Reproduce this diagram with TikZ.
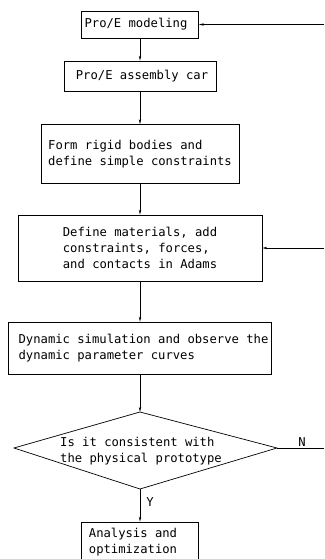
\documentclass[tikz,border=0pt]{standalone}
\usepackage{fontspec}
\setmainfont{DejaVu Sans Mono}
\usetikzlibrary{arrows.meta}
\begin{document}
\begin{tikzpicture}[x=1pt,y=-1pt,
  every node/.style={font=\fontsize{12.2}{16}\selectfont},
  box/.style={draw, line width=0.7pt, rectangle, align=left, inner sep=0pt},
  link/.style={line width=0.7pt, -{Stealth[length=5pt,width=2.4pt]}},
  plain/.style={line width=0.7pt}]
\useasboundingbox (0,0) rectangle (324,559);
\node[box, minimum height=27pt, minimum width=117pt] (b1) at (140,24.5) {Pro/E modeling\hspace*{8pt}};
\node[box, minimum height=30pt, minimum width=152pt] (b2) at (140,76) {\hspace*{4pt}Pro/E assembly car};
\node[box, minimum height=59pt, minimum width=198pt] (b3) at (140,154) {Form rigid bodies and\\define simple constraints};
\node[box, minimum height=66pt, minimum width=244pt] (b4) at (140,248) {Define materials, add\\constraints, forces,\\and contacts in Adams};
\node[box, minimum height=52pt, minimum width=263pt] (b5) at (140,348) {\hspace*{7pt}Dynamic simulation and observe the\\\hspace*{7pt}dynamic parameter curves};
\coordinate (dtop) at (140,412);
\coordinate (dleft) at (14,448);
\coordinate (dright) at (277,448);
\coordinate (dbot) at (140,489);
\draw[plain] (dtop) -- (dright) -- (dbot) -- (dleft) -- cycle;
\node[anchor=west, align=left, inner sep=0pt] (dt) at (60,451) {Is it consistent with\\the physical prototype};
\node[box, minimum height=40pt, minimum width=117pt] (b6) at (140,542) {Analysis and\hspace*{14pt}\\optimization};
\coordinate (r1) at (324,24.5);
\coordinate (r4) at (324,248);
\coordinate (rn) at (324,448);
\node[inner sep=0pt] (ylab) at (150,502) {Y};
\node[inner sep=0pt] (nlab) at (302,442) {N};
\draw[link] (b1.south) -- (b2.north);
\draw[link] (b2.south) -- (b3.north);
\draw[link] (b3.south) -- (b4.north);
\draw[link] (b4.south) -- (b5.north);
\draw[link] (b5.south) -- (dtop);
\draw[link] (dbot) -- (b6.north);
\draw[link] (r1) -- (b1.east);
\draw[link] (r4) -- (b4.east);
\draw[plain] (dright) -- (rn);
\end{tikzpicture}
\end{document}
